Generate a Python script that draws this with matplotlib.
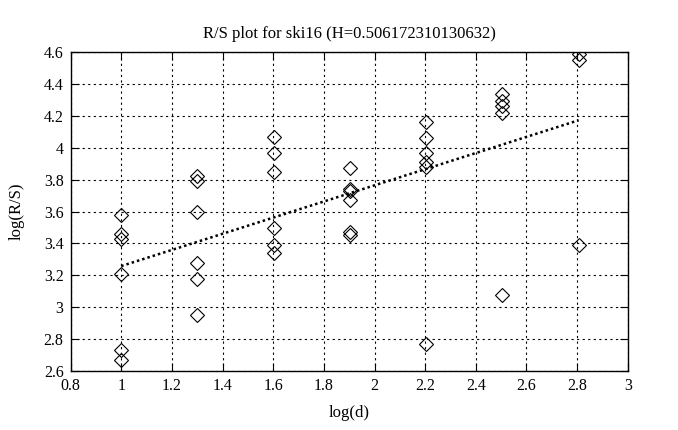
import numpy as np
import matplotlib
matplotlib.use('Agg')
import matplotlib.pyplot as plt

plt.rcParams['font.family'] = ['Liberation Serif', 'DejaVu Serif']

# log(d) for each window size and the R/S values read at that size
logd = [1.0, 1.301, 1.602, 1.903, 2.204, 2.505, 2.806]
rs_values = [
    [3.58, 3.46, 3.43, 3.21, 2.73, 2.67],
    [3.82, 3.79, 3.60, 3.28, 3.18, 2.95],
    [4.07, 3.97, 3.85, 3.50, 3.39, 3.34],
    [3.87, 3.74, 3.73, 3.67, 3.47, 3.45],
    [4.16, 4.06, 3.97, 3.91, 3.88, 2.77],
    [4.34, 4.29, 4.26, 4.22, 3.08],
    [4.59, 4.55, 3.39],
]
H = 0.506172310130632
intercept = 2.752

xs = []
ys = []
for x, vals in zip(logd, rs_values):
    xs += [x] * len(vals)
    ys += vals

fig = plt.figure(figsize=(6.78, 4.30), dpi=100)
ax = fig.add_axes([0.104, 0.137, 0.822, 0.742])

ax.plot(xs, ys, linestyle='none', marker='D', markersize=7.5,
        markerfacecolor='none', markeredgecolor='black', markeredgewidth=0.8)

fx = np.array([logd[0], logd[-1]])
ax.plot(fx, H * fx + intercept, color='black', linestyle=(0, (1, 1.2)), linewidth=1.8)

ax.set_xlim(0.8, 3)
ax.set_ylim(2.6, 4.6)
ax.set_xticks(np.arange(0.8, 3.01, 0.2))
ax.set_yticks(np.arange(2.6, 4.61, 0.2))
ax.set_xticklabels(['0.8', '1', '1.2', '1.4', '1.6', '1.8', '2', '2.2', '2.4', '2.6', '2.8', '3'])
ax.set_yticklabels(['2.6', '2.8', '3', '3.2', '3.4', '3.6', '3.8', '4', '4.2', '4.4', '4.6'])
ax.grid(True, color='black', linestyle=(0, (2, 3)), linewidth=0.8)
ax.tick_params(direction='in', top=True, right=True, length=6, labelsize=11.5, pad=5)
for s in ax.spines.values():
    s.set_linewidth(1.0)

ax.set_title('R/S plot for ski16 (H=0.506172310130632)', fontsize=12, pad=10)
ax.set_xlabel('log(d)', fontsize=12, labelpad=8)
ax.set_ylabel('log(R/S)', fontsize=12, labelpad=14)

fig.savefig('out.png', dpi=100)
